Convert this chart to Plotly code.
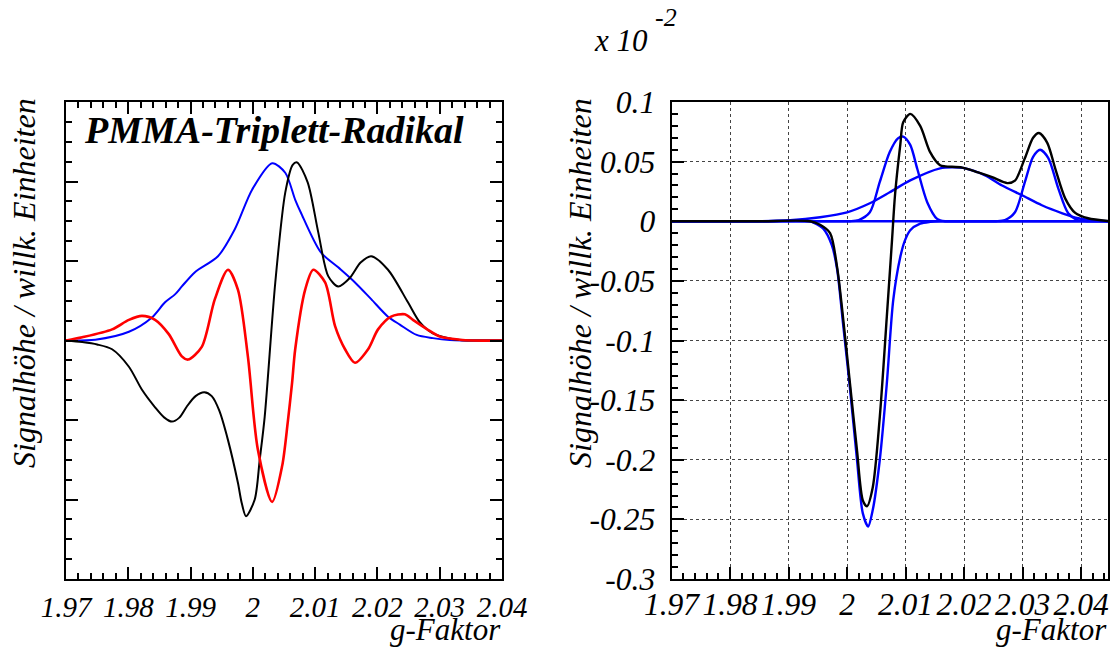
import plotly.graph_objects as go

# ---------------- left panel data (arbitrary units) ----------------
left_black_g = [1.9700, 1.9726, 1.9750, 1.9774, 1.9801, 1.9822, 1.9843, 1.9858, 1.9870, 1.9882,
                1.9894, 1.9908, 1.9922, 1.9934, 1.9946, 1.9960, 1.9976, 1.9982, 1.9989, 2.0003,
                2.0011, 2.0019, 2.0036, 2.0052, 2.0064, 2.0071, 2.0088, 2.0105, 2.0121, 2.0137,
                2.0156, 2.0173, 2.0190, 2.0217, 2.0249, 2.0268, 2.0289, 2.0316, 2.0344, 2.0370,
                2.0400]
left_black_y = [0.0, -0.02, -0.05, -0.11, -0.33, -0.62, -0.84, -0.97, -1.02, -0.97,
                -0.83, -0.70, -0.65, -0.70, -0.88, -1.25, -1.79, -2.04, -2.21, -2.0,
                -1.50, -0.96, 0.73, 1.86, 2.21, 2.24, 1.99, 1.36, 0.81, 0.68,
                0.79, 0.98, 1.06, 0.89, 0.48, 0.23, 0.09, 0.025, 0.0, 0.0,
                0.0]

left_blue_g = [1.9700, 1.9747, 1.9801, 1.9838, 1.9859, 1.9875, 1.9886, 1.9907, 1.9944, 1.9971,
               1.9999, 2.0031, 2.0052, 2.0068, 2.0077, 2.0109, 2.0137, 2.0164, 2.0190, 2.0217,
               2.0236, 2.0263, 2.0289, 2.0316, 2.0340, 2.0400]
left_blue_y = [0.0, 0.01, 0.11, 0.29, 0.48, 0.58, 0.68, 0.86, 1.06, 1.40,
               1.90, 2.23, 2.11, 1.77, 1.61, 1.11, 0.92, 0.73, 0.52, 0.30,
               0.20, 0.07, 0.03, 0.005, 0.0, 0.0]

left_red_g = [1.9700, 1.9726, 1.9774, 1.9801, 1.9822, 1.9843, 1.9865, 1.9886, 1.9896, 1.9918,
              1.9939, 1.9960, 1.9976, 1.9992, 2.0008, 2.0031, 2.0047, 2.0056, 2.0063, 2.0068,
              2.0084, 2.0097, 2.0116, 2.0132, 2.0148, 2.0164, 2.0185, 2.0201, 2.0222, 2.0244,
              2.0257, 2.0280, 2.0300, 2.0332, 2.0353, 2.0400]
left_red_y = [0.0, 0.04, 0.14, 0.26, 0.31, 0.26, 0.08, -0.20, -0.24, -0.08,
              0.52, 0.89, 0.64, -0.20, -1.37, -2.03, -1.58, -1.03, -0.53, -0.11,
              0.64, 0.89, 0.73, 0.18, -0.11, -0.28, -0.11, 0.14, 0.30, 0.33,
              0.26, 0.14, 0.05, 0.01, 0.0, 0.0]

# ---------------- right panel data (x 10^-2) ----------------
right_black_g = [1.9700, 1.9850, 1.9937, 1.9954, 1.9971, 1.9983, 1.9993, 2.0005, 2.0017, 2.0027,
                 2.0034, 2.0044, 2.0056, 2.0068, 2.0077, 2.0082, 2.0091, 2.0096, 2.0108, 2.0125,
                 2.0142, 2.0159, 2.0168, 2.0197, 2.0224, 2.0248, 2.0274, 2.0287, 2.0304, 2.0318,
                 2.0328, 2.0342, 2.0356, 2.0373, 2.0390, 2.0412, 2.0450]
right_black_y = [0.0, 0.0, 0.0, -0.003, -0.010, -0.0385, -0.080, -0.136, -0.192, -0.234,
                 -0.239, -0.223, -0.164, -0.080, -0.015, 0.022, 0.064, 0.083, 0.090, 0.080,
                 0.058, 0.047, 0.046, 0.045, 0.041, 0.037, 0.032, 0.034, 0.053, 0.070,
                 0.074, 0.066, 0.044, 0.019, 0.007, 0.0025, 0.0]

right_neg_g = [1.9700, 1.9850, 1.9937, 1.9942, 1.9959, 1.9974, 1.9983, 1.9993, 2.0005, 2.0017,
               2.0027, 2.0036, 2.0044, 2.0056, 2.0068, 2.0079, 2.0091, 2.0099, 2.0108, 2.0125,
               2.0142, 2.0159, 2.0175, 2.0450]
right_neg_y = [0.0, 0.0, 0.0, -0.001, -0.006, -0.020, -0.040, -0.085, -0.140, -0.200,
               -0.245, -0.256, -0.242, -0.200, -0.136, -0.066, -0.030, -0.016, -0.0075, -0.002,
               -0.0005, 0.0, 0.0, 0.0]

right_peak1_g = [1.9700, 1.9950, 2.0005, 2.0020, 2.0039, 2.0056, 2.0073, 2.0087, 2.0096, 2.0108,
                 2.0120, 2.0137, 2.0154, 2.0168, 2.0185, 2.0450]
right_peak1_y = [0.0, 0.0, 0.0, 0.001, 0.0075, 0.033, 0.058, 0.0695, 0.071, 0.064,
                 0.044, 0.016, 0.002, 0.0, 0.0, 0.0]

right_broad_g = [1.9700, 1.9850, 1.9903, 1.9954, 2.0000, 2.0039, 2.0073, 2.0108, 2.0159, 2.0180,
                 2.0202, 2.0236, 2.0265, 2.0299, 2.0333, 2.0368, 2.0395, 2.0420, 2.0446]
right_broad_y = [0.0, 0.0, 0.0008, 0.0034, 0.0075, 0.0151, 0.0243, 0.0343, 0.0444, 0.0452,
                 0.0444, 0.0385, 0.030, 0.0218, 0.0134, 0.0067, 0.0025, 0.0008, 0.0]

right_peak2_g = [1.9700, 2.0220, 2.0255, 2.0270, 2.0287, 2.0304, 2.0318, 2.0330, 2.0344, 2.0361,
                 2.0378, 2.0395, 2.0410, 2.0450]
right_peak2_y = [0.0, 0.0, 0.0, 0.001, 0.0075, 0.033, 0.054, 0.060, 0.053, 0.0276,
                 0.0067, 0.0008, 0.0, 0.0]

# ---------------- ticks ----------------
x_tickvals = [1.97, 1.98, 1.99, 2.00, 2.01, 2.02, 2.03, 2.04]
x_ticktext = ["1.97", "1.98", "1.99", "2", "2.01", "2.02", "2.03", "2.04"]
ry_tickvals = [0.1, 0.05, 0.0, -0.05, -0.1, -0.15, -0.2, -0.25, -0.3]
ry_ticktext = ["0.1", "0.05", "0", "-0.05", "-0.1", "-0.15", "-0.2", "-0.25", "-0.3"]

W, H = 1111, 647
FONT = "Liberation Serif"

fig = go.Figure()

def add(x, y, color, xa, ya, width=2.0):
    fig.add_trace(go.Scatter(x=x, y=y, mode="lines", xaxis=xa, yaxis=ya,
                             line=dict(color=color, width=width, shape="spline", smoothing=0.8),
                             showlegend=False, hoverinfo="skip"))

add(left_blue_g, left_blue_y, "#0000ff", "x", "y")
add(left_black_g, left_black_y, "#000000", "x", "y")
add(left_red_g, left_red_y, "#ff0000", "x", "y", 2.6)

add(right_neg_g, right_neg_y, "#0000ff", "x2", "y2", 2.4)
add(right_peak1_g, right_peak1_y, "#0000ff", "x2", "y2", 2.4)
add(right_broad_g, right_broad_y, "#0000ff", "x2", "y2", 2.4)
add(right_peak2_g, right_peak2_y, "#0000ff", "x2", "y2", 2.4)
add(right_black_g, right_black_y, "#000000", "x2", "y2", 2.4)

ydom = [(H - 579) / H, (H - 102) / H]
tickfont_l = dict(family=FONT, size=29, color="black", style="italic")
tickfont_r = dict(family=FONT, size=31.5, color="black", style="italic")

fig.update_layout(
    width=W, height=H, margin=dict(l=0, r=0, t=0, b=0, autoexpand=False),
    paper_bgcolor="white", plot_bgcolor="white",
    xaxis=dict(domain=[66 / W, 502 / W], range=[1.97, 2.04], tickvals=x_tickvals, ticktext=x_ticktext,
               ticks="inside", ticklen=12, tickwidth=1.5, tickcolor="black", showgrid=False, zeroline=False,
               showline=True, linecolor="black", linewidth=2, mirror="allticks", tickangle=0,
               tickfont=tickfont_l, ticklabelstandoff=1, automargin=False,
               minor=dict(dtick=0.002, tick0=1.97, ticks="inside", ticklen=6, tickcolor="black", showgrid=False)),
    yaxis=dict(domain=ydom, range=[-3, 3], dtick=1, tick0=0, showticklabels=False, automargin=False,
               ticks="inside", ticklen=12, tickwidth=1.5, tickcolor="black", showgrid=False, zeroline=False,
               showline=True, linecolor="black", linewidth=2, mirror="allticks",
               minor=dict(dtick=0.25, tick0=0, ticks="inside", ticklen=6, tickcolor="black", showgrid=False)),
    xaxis2=dict(domain=[671.5 / W, 1108 / W], range=[1.97, 2.0446], anchor="y2",
                tickvals=x_tickvals, ticktext=x_ticktext, tickangle=0, automargin=False,
                ticks="inside", ticklen=12, tickwidth=1.5, tickcolor="black",
                showgrid=True, gridcolor="#444444", griddash="dot", gridwidth=1, zeroline=False,
                showline=True, linecolor="black", linewidth=2, mirror=True,
                tickfont=tickfont_r, ticklabelstandoff=-4,
                minor=dict(dtick=0.002, tick0=1.97, ticks="inside", ticklen=6, tickcolor="black", showgrid=False)),
    yaxis2=dict(domain=ydom, range=[-0.3, 0.1], anchor="x2", automargin=False,
                tickvals=ry_tickvals, ticktext=ry_ticktext,
                ticks="inside", ticklen=12, tickwidth=1.5, tickcolor="black",
                showgrid=True, gridcolor="#444444", griddash="dot", gridwidth=1, zeroline=False,
                showline=True, linecolor="black", linewidth=2, mirror=True,
                tickfont=tickfont_r, ticklabelstandoff=8,
                minor=dict(dtick=0.01, tick0=0, ticks="inside", ticklen=6, tickcolor="black", showgrid=False)),
)

def ann(text, px, py, xanchor, yanchor, size, angle=0, weight="normal"):
    fig.add_annotation(text=text, x=px / W, y=1 - py / H, xref="paper", yref="paper",
                       xanchor=xanchor, yanchor=yanchor, showarrow=False, textangle=angle,
                       font=dict(family=FONT, size=size, color="black", style="italic", weight=weight))

ann("PMMA-Triplett-Radikal", 82, 130, "left", "middle", 38, weight="bold")
ytitle = "Signalhöhe / willk. Einheiten"
ann(ytitle, 24, 96, "center", "top", 32, angle=-90)
ann(ytitle, 580, 96, "center", "top", 32, angle=-90)
ann("g-Faktor", 503, 629, "right", "middle", 31)
ann("g-Faktor", 1109, 629, "right", "middle", 31)
ann("x 10", 592, 40, "left", "middle", 31)
ann("-2", 653, 17, "left", "middle", 26)

fig.write_html("out.html")
